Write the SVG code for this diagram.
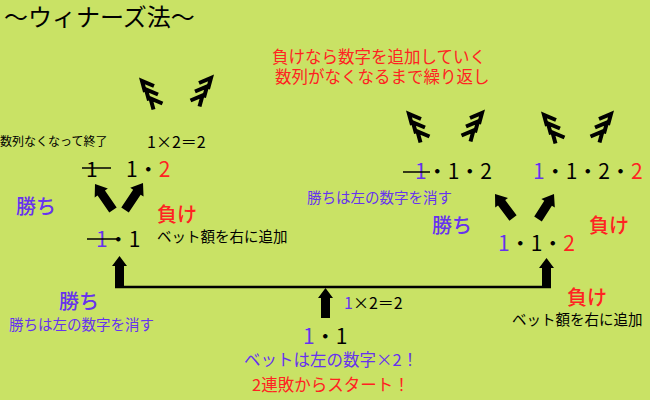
<svg xmlns="http://www.w3.org/2000/svg" xmlns:xlink="http://www.w3.org/1999/xlink" width="650" height="400" viewBox="0 0 650 400">
<style>
text{font-family:"Noto Sans CJK JP","Noto Sans",sans-serif;fill:#000}
.t24{font-size:24px}
.t21{font-size:21px}
.t20b{font-size:20px;font-weight:500}
.t16{font-size:16px}
.t165{font-size:16.5px}
.t145{font-size:14.5px}
.t12{font-size:12px}
.pur{fill:#6633EE}
.red{fill:#FF2222}
.chev{fill:none;stroke:#000;stroke-width:4;stroke-linejoin:miter;stroke-linecap:butt}
.strike{stroke:#000;stroke-width:1.5}
.line{stroke:#000;stroke-width:2.5;fill:none}
.barrow{fill:#000}
</style>
<defs>
<g id="chevL">
<path class="chev" d="M3,11 L0,0 L12,5"/>
<path class="chev" d="M7,19.5 L4,8.5 L16,13.5"/>
<path class="chev" d="M11.5,28.5 L8.5,17.5 L20.5,22.5"/>
</g>
</defs>
<rect x="0" y="0" width="650" height="400" fill="#C9E265"/>

<g id="title"><text class="t24" x="4" y="25.5">〜ウィナーズ法〜</text></g>
<g id="note-red">
<text class="t165 red" x="272" y="63">負けなら数字を追加していく</text>
<text class="t165 red" x="275" y="82.5">数列がなくなるまで繰り返し</text>
</g>

<g id="chevrons">
<use xlink:href="#chevL" transform="translate(142,81)"/>
<use xlink:href="#chevL" transform="translate(211,78) scale(-1,1)"/>
<use xlink:href="#chevL" transform="translate(409,114)"/>
<use xlink:href="#chevL" transform="translate(482,113) scale(-1,1)"/>
<use xlink:href="#chevL" transform="translate(544,115)"/>
<use xlink:href="#chevL" transform="translate(611,114) scale(-1,1)"/>
</g>

<g id="connectors">
<path class="barrow" transform="translate(95,184) rotate(-34.7)" d="M0,0 L8,11 L4.5,11 L4.5,31.6 L-4.5,31.6 L-4.5,11 L-8,11 Z"/>
<path class="barrow" transform="translate(143,183) rotate(33.7)" d="M0,0 L8,11 L4.5,11 L4.5,32.4 L-4.5,32.4 L-4.5,11 L-8,11 Z"/>
<path class="barrow" transform="translate(495,194) rotate(-36.9)" d="M0,0 L8,11 L4.5,11 L4.5,30 L-4.5,30 L-4.5,11 L-8,11 Z"/>
<path class="barrow" transform="translate(554,194) rotate(32.6)" d="M0,0 L8,11 L4.5,11 L4.5,29.7 L-4.5,29.7 L-4.5,11 L-8,11 Z"/>
<path class="barrow" transform="translate(119.5,256)" d="M0,0 L7.5,10 L4.5,10 L4.5,31 L-4.5,31 L-4.5,10 L-7.5,10 Z"/>
<path class="barrow" transform="translate(546.5,258)" d="M0,0 L7.5,10 L4.5,10 L4.5,29 L-4.5,29 L-4.5,10 L-7.5,10 Z"/>
<path class="barrow" transform="translate(325.5,288)" d="M0,0 L7.5,10 L4.5,10 L4.5,30 L-4.5,30 L-4.5,10 L-7.5,10 Z"/>
<line class="line" x1="115" y1="287" x2="551" y2="287"/>
</g>

<g id="end-note"><text class="t12" x="0" y="146">数列なくなって終了</text></g>
<g id="calc-top"><text class="t16" x="147" y="148">1×2＝2</text></g>

<g id="node-tl1">
<text class="t21" x="86" y="176.5">1</text>
<line class="strike" x1="82" y1="168" x2="111" y2="168"/>
</g>
<g id="node-tl2"><text class="t21" x="126" y="176.5">1・<tspan class="red">2</tspan></text></g>

<g id="win-left-top"><text class="t20b pur" x="16" y="214">勝ち</text></g>
<g id="lose-left"><text class="t20b red" x="157" y="222">負け</text>
<text class="t145" x="157" y="242">ベット額を右に追加</text></g>

<g id="node-ml">
<text class="t21" x="96" y="247"><tspan class="pur">1</tspan>・1</text>
<line class="strike" x1="87" y1="239" x2="117" y2="239"/>
</g>

<g id="win-left-bottom"><text class="t20b pur" x="59" y="309">勝ち</text>
<text class="t145 pur" x="9" y="330">勝ちは左の数字を消す</text></g>

<g id="calc-mid"><text class="t16" x="344" y="309"><tspan class="pur">1</tspan>×2＝2</text></g>

<g id="node-start">
<text class="t21" x="303" y="344"><tspan class="pur">1</tspan>・1</text>
<text class="t165 pur" x="244" y="366">ベットは左の数字×2！</text>
<text class="t165 red" x="252" y="391">2連敗からスタート！</text>
</g>

<g id="lose-right-bottom"><text class="t20b red" x="567" y="305">負け</text>
<text class="t145" x="512" y="325">ベット額を右に追加</text></g>

<g id="node-mr"><text class="t21" x="498" y="251"><tspan class="pur">1</tspan>・1・<tspan class="red">2</tspan></text></g>
<g id="win-right"><text class="t20b pur" x="432" y="233">勝ち</text>
<text class="t145 pur" x="307" y="203">勝ちは左の数字を消す</text></g>
<g id="lose-right"><text class="t20b red" x="589" y="233">負け</text></g>

<g id="node-tr1">
<text class="t21" x="415" y="179"><tspan class="pur">1</tspan>・1・2</text>
<line class="strike" x1="403" y1="172" x2="430" y2="172"/>
</g>
<g id="node-tr2"><text class="t21" x="533" y="179"><tspan class="pur">1</tspan>・1・2・<tspan class="red">2</tspan></text></g>
</svg>
